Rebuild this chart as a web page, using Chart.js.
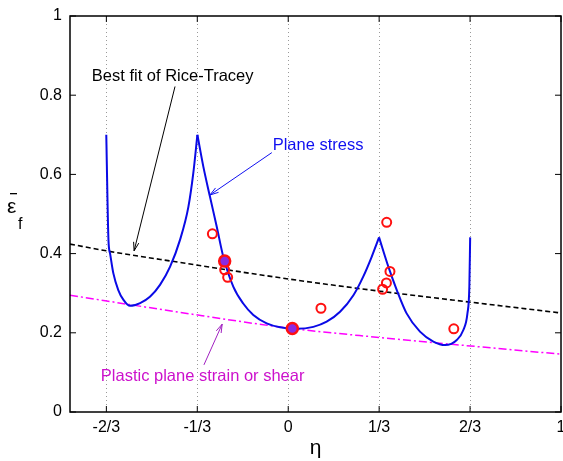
<!DOCTYPE html>
<html>
<head>
<meta charset="utf-8">
<script src="https://cdn.jsdelivr.net/npm/chart.js@4/dist/chart.umd.min.js"></script>
<style>
  html, body { margin: 0; padding: 0; background: #fff; }
  #wrap { width: 563px; height: 461px; }
</style>
</head>
<body>
<div id="wrap"><canvas id="chart" width="563" height="461"></canvas></div>
<script>
// ticks
const xTickValues = [-2 / 3, -1 / 3, 0, 1 / 3, 2 / 3, 1];
const xTickLabels = ['-2/3', '-1/3', '0', '1/3', '2/3', '1'];

// plane stress locus, one branch between each pair of cusps
const branch1Eta = [-0.667, -0.659, -0.653, -0.641, -0.623, -0.604, -0.58, -0.543, -0.507, -0.47, -0.433, -0.397, -0.366, -0.348, -0.333];
const branch1Eps = [0.70, 0.434, 0.40, 0.35, 0.308, 0.283, 0.268, 0.275, 0.291, 0.321, 0.367, 0.434, 0.518, 0.603, 0.70];
const branch2Eta = [-0.333, -0.311, -0.287, -0.262, -0.238, -0.201, -0.165, -0.128, -0.079, -0.03, 0.031, 0.092, 0.141, 0.19, 0.239, 0.275, 0.306, 0.333];
const branch2Eps = [0.70, 0.619, 0.544, 0.468, 0.392, 0.316, 0.274, 0.245, 0.224, 0.214, 0.21, 0.215, 0.228, 0.253, 0.295, 0.342, 0.392, 0.441];
const branch3Eta = [0.333, 0.367, 0.398, 0.434, 0.483, 0.532, 0.575, 0.618, 0.642, 0.657, 0.664, 0.667];
const branch3Eps = [0.441, 0.367, 0.308, 0.249, 0.203, 0.178, 0.169, 0.182, 0.207, 0.249, 0.316, 0.441];

// best fit of Rice-Tracey
const riceEta = [-0.8, -0.667, -0.4, 0, 0.337, 0.6, 1];
const riceEps = [0.424, 0.407, 0.378, 0.336, 0.305, 0.283, 0.25];

// plastic plane strain or shear
const shearEta = [-0.8, -0.4, 0, 0.337, 0.6, 1];
const shearEps = [0.295, 0.252, 0.212, 0.188, 0.171, 0.146];

// experiments
const testEta = [-0.278, -0.233, -0.222, 0.12, 0.361, 0.373, 0.36, 0.346, 0.607];
const testEps = [0.45, 0.359, 0.34, 0.262, 0.479, 0.355, 0.326, 0.31, 0.21];
const calibEta = [-0.233, 0.015];
const calibEps = [0.381, 0.211];

const toXY = (xs, ys) => xs.map((x, i) => ({ x: x, y: ys[i] }));

const FONT = "'Liberation Sans', Arial, Helvetica, sans-serif";
const BLUE = '#0a0ae6';

const notes = [
  { text: 'Best fit of Rice-Tracey', color: '#000', at: [-0.72, 0.848], from: [-0.415, 0.822], to: [-0.565, 0.407] },
  { text: 'Plane stress', color: '#1010f0', at: [-0.057, 0.674], from: [-0.06, 0.655], to: [-0.287, 0.548] },
  { text: 'Plastic plane strain or shear', color: '#cc11cc', at: [-0.687, 0.091], from: [-0.309, 0.119], to: [-0.242, 0.222], arrowColor: '#a020c0' }
];

function arrow(ctx, x1, y1, x2, y2, color) {
  const a = Math.atan2(y2 - y1, x2 - x1);
  ctx.strokeStyle = color;
  ctx.lineWidth = 1;
  ctx.setLineDash([]);
  ctx.beginPath();
  ctx.moveTo(x1, y1);
  ctx.lineTo(x2, y2);
  ctx.stroke();
  ctx.beginPath();
  ctx.moveTo(x2 - 9 * Math.cos(a - 0.3), y2 - 9 * Math.sin(a - 0.3));
  ctx.lineTo(x2, y2);
  ctx.lineTo(x2 - 9 * Math.cos(a + 0.3), y2 - 9 * Math.sin(a + 0.3));
  ctx.stroke();
}

const decor = {
  id: 'decor',
  beforeDatasetsDraw(chart) {
    const { ctx, chartArea: ca, scales: { x } } = chart;
    ctx.save();
    // dotted verticals
    ctx.strokeStyle = '#9a9a9a';
    ctx.lineWidth = 1;
    ctx.setLineDash([1, 3]);
    xTickValues.slice(0, 5).forEach(v => {
      const px = Math.round(x.getPixelForValue(v)) + 0.5;
      ctx.beginPath();
      ctx.moveTo(px, ca.top);
      ctx.lineTo(px, ca.bottom);
      ctx.stroke();
    });
    ctx.restore();
  },
  afterDraw(chart) {
    const { ctx, chartArea: ca, scales: { x, y } } = chart;
    ctx.save();
    ctx.setLineDash([]);
    ctx.strokeStyle = '#000';
    ctx.lineWidth = 1.5;
    ctx.strokeRect(ca.left, ca.top, ca.right - ca.left, ca.bottom - ca.top);
    // inward ticks + x labels
    ctx.lineWidth = 1;
    ctx.fillStyle = '#000';
    ctx.font = '16px ' + FONT;
    ctx.textAlign = 'center';
    ctx.textBaseline = 'middle';
    xTickValues.forEach((v, i) => {
      const px = x.getPixelForValue(v);
      ctx.beginPath();
      ctx.moveTo(px, ca.bottom); ctx.lineTo(px, ca.bottom - 6);
      ctx.moveTo(px, ca.top); ctx.lineTo(px, ca.top + 6);
      ctx.stroke();
      ctx.fillText(xTickLabels[i], px, ca.bottom + 16);
    });
    y.ticks.forEach(t => {
      const py = y.getPixelForValue(t.value);
      ctx.beginPath();
      ctx.moveTo(ca.left, py); ctx.lineTo(ca.left + 6, py);
      ctx.moveTo(ca.right, py); ctx.lineTo(ca.right - 6, py);
      ctx.stroke();
    });
    // y label: epsilon bar sub f
    ctx.font = '21px ' + FONT;
    ctx.textAlign = 'left';
    ctx.textBaseline = 'alphabetic';
    ctx.fillText('\u03b5', 7, 213);
    ctx.fillRect(10, 193, 7, 1.3);
    ctx.font = '16px ' + FONT;
    ctx.fillText('f', 18, 229);
    // annotations
    notes.forEach(n => {
      ctx.font = '16.5px ' + FONT;
      ctx.fillStyle = n.color;
      ctx.textAlign = 'left';
      ctx.textBaseline = 'middle';
      ctx.fillText(n.text, x.getPixelForValue(n.at[0]), y.getPixelForValue(n.at[1]));
      arrow(ctx, x.getPixelForValue(n.from[0]), y.getPixelForValue(n.from[1]),
        x.getPixelForValue(n.to[0]), y.getPixelForValue(n.to[1]), n.arrowColor || n.color);
    });
    ctx.restore();
  }
};

const branch = (xs, ys) => ({
  data: toXY(xs, ys),
  showLine: true,
  borderColor: BLUE,
  borderWidth: 2,
  pointRadius: 0,
  cubicInterpolationMode: 'monotone',
  order: 2
});

new Chart(document.getElementById('chart'), {
  type: 'scatter',
  data: {
    datasets: [{
      data: toXY(calibEta, calibEps),
      pointRadius: 5.5,
      pointBorderWidth: 2.5,
      pointBorderColor: '#ff1010',
      pointBackgroundColor: '#8a2be2',
      showLine: false,
      order: 0
    }, {
      data: toXY(testEta, testEps),
      pointRadius: 4.5,
      pointBorderWidth: 2,
      pointBorderColor: '#ff1010',
      pointBackgroundColor: 'rgba(0,0,0,0)',
      showLine: false,
      order: 1
    },
    branch(branch1Eta, branch1Eps),
    branch(branch2Eta, branch2Eps),
    branch(branch3Eta, branch3Eps),
    {
      data: toXY(riceEta, riceEps),
      showLine: true,
      borderColor: '#000',
      borderWidth: 1.6,
      borderDash: [5, 3],
      pointRadius: 0,
      cubicInterpolationMode: 'monotone',
      order: 3
    }, {
      data: toXY(shearEta, shearEps),
      showLine: true,
      borderColor: '#ff00ff',
      borderWidth: 1.5,
      borderDash: [8, 3, 2, 3],
      pointRadius: 0,
      cubicInterpolationMode: 'monotone',
      order: 4
    }]
  },
  options: {
    responsive: false,
    animation: false,
    events: [],
    layout: { autoPadding: false, padding: { left: 0, right: 2, top: 16, bottom: 0 } },
    plugins: { legend: { display: false }, tooltip: { enabled: false } },
    scales: {
      x: {
        type: 'linear',
        min: -0.8,
        max: 1,
        afterBuildTicks: s => { s.ticks = xTickValues.map(v => ({ value: v })); },
        afterFit: s => { s.height = 49; },
        ticks: { display: false },
        grid: { display: false, drawTicks: false },
        border: { display: false },
        title: {
          display: true,
          text: '\u03b7',
          color: '#000',
          font: { family: FONT, size: 21 },
          padding: { top: 0, bottom: 0 }
        }
      },
      y: {
        type: 'linear',
        min: 0,
        max: 1,
        afterFit: s => { s.width = 70; s.paddingTop = 0; s.paddingBottom = 0; },
        ticks: {
          stepSize: 0.2,
          callback: v => String(Math.round(v * 10) / 10),
          color: '#000',
          font: { family: FONT, size: 16 },
          padding: 8
        },
        grid: { display: false, drawTicks: false },
        border: { display: false }
      }
    }
  },
  plugins: [decor]
});
</script>
</body>
</html>
